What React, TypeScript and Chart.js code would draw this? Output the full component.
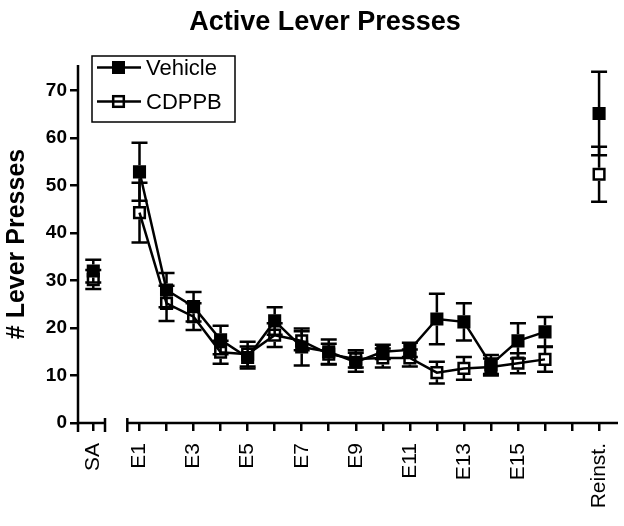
import React, { useEffect, useRef } from 'react';
import { Chart, registerables } from 'chart.js';

Chart.register(...registerables);

const FONT = "'Liberation Sans', Arial, Helvetica, sans-serif";

// ---- data ----
const categories = ['SA', 'E1', 'E2', 'E3', 'E4', 'E5', 'E6', 'E7', 'E8', 'E9', 'E10', 'E11', 'E12', 'E13', 'E14', 'E15', 'E16', 'Reinst.'];
// position of each session on the (broken) x axis
const xPositions = [-0.71, 1, 2, 3, 4, 5, 6, 7, 8, 9, 10, 11, 12, 13, 14, 15, 16, 18];

const vehicleMean = [32.0, 52.9, 28.0, 24.5, 17.5, 13.8, 21.5, 16.0, 15.0, 12.8, 15.0, 15.4, 21.9, 21.3, 12.3, 17.3, 19.2, 65.2];
const vehicleSem = [2.4, 6.1, 3.6, 3.1, 3.0, 2.3, 2.9, 3.9, 2.6, 2.0, 1.5, 1.5, 5.3, 3.9, 2.0, 3.7, 3.1, 8.8];
const cdppbMean = [30.2, 44.3, 25.2, 22.4, 14.9, 14.5, 18.5, 17.3, 14.5, 13.5, 13.7, 13.7, 10.6, 11.5, 11.8, 12.6, 13.4, 52.4];
const cdppbSem = [2.0, 6.3, 3.7, 2.8, 2.4, 2.6, 2.5, 2.0, 2.2, 1.8, 2.0, 1.8, 2.3, 2.4, 1.8, 2.1, 2.6, 5.8];

const xTickValues = [-0.71, 1, 2, 3, 4, 5, 6, 7, 8, 9, 10, 11, 12, 13, 14, 15, 16, 17, 18];
const xTickLabels = ['SA', 'E1', '', 'E3', '', 'E5', '', 'E7', '', 'E9', '', 'E11', '', 'E13', '', 'E15', '', '', 'Reinst.'];
const yTickStep = 10;

const titleText = 'Active Lever Presses';
const yTitleText = '# Lever Presses';
const seriesNames = ['Vehicle', 'CDPPB'];

// axis geometry (value units)
const X_MIN = -1.275;
const X_MAX = 18.7;
const Y_MIN = 0;
const Y_MAX = 75.4;
const BREAK_START = -0.276;
const BREAK_END = 0.549;

const semSets = [vehicleSem, cdppbSem];

const decorPlugin = {
  id: 'decor',
  beforeDatasetsDraw(chart: any) {
    const ctx = chart.ctx;
    const ys = chart.scales.y;
    const half = 6.5;
    chart.data.datasets.forEach((ds: any, di: number) => {
      const meta = chart.getDatasetMeta(di);
      const sems = semSets[di];
      meta.data.forEach((pt: any, i: number) => {
        const m = ds.data[i].y;
        const s = sems[i];
        const yc = pt.y;
        const yt = ys.getPixelForValue(m + s);
        const yb = ys.getPixelForValue(m - s);
        ctx.save();
        ctx.strokeStyle = '#000';
        ctx.lineWidth = 2.5;
        ctx.beginPath();
        if (yt < yc - half) {
          ctx.moveTo(pt.x, yc - half);
          ctx.lineTo(pt.x, yt);
        }
        ctx.moveTo(pt.x - 8, yt);
        ctx.lineTo(pt.x + 8, yt);
        if (yb > yc + half) {
          ctx.moveTo(pt.x, yc + half);
          ctx.lineTo(pt.x, yb);
        }
        ctx.moveTo(pt.x - 8, yb);
        ctx.lineTo(pt.x + 8, yb);
        ctx.stroke();
        ctx.restore();
      });
    });
  },
  afterDraw(chart: any) {
    const ctx = chart.ctx;
    const xs = chart.scales.x;
    const ys = chart.scales.y;
    const area = chart.chartArea;
    const x0 = xs.getPixelForValue(X_MIN);
    const yz = ys.getPixelForValue(0);
    const c1 = xs.getPixelForValue(BREAK_START);
    const c2 = xs.getPixelForValue(BREAK_END);
    ctx.save();
    ctx.strokeStyle = '#000';
    ctx.lineWidth = 2.5;
    ctx.beginPath();
    // y axis
    ctx.moveTo(x0, area.top);
    ctx.lineTo(x0, yz + 9);
    // x axis segment 1
    ctx.moveTo(x0, yz);
    ctx.lineTo(c1, yz);
    ctx.moveTo(c1, yz - 5);
    ctx.lineTo(c1, yz + 9);
    // x axis segment 2
    ctx.moveTo(c2, yz - 5);
    ctx.lineTo(c2, yz + 9);
    ctx.moveTo(c2, yz);
    ctx.lineTo(area.right, yz);
    ctx.stroke();

    // title
    ctx.fillStyle = '#000';
    ctx.font = `bold 27px ${FONT}`;
    ctx.textAlign = 'center';
    ctx.textBaseline = 'middle';
    ctx.fillText(titleText, 325, 23);

    // legend
    ctx.lineWidth = 1.5;
    ctx.strokeRect(92, 56, 143, 66);
    const rows = [67.5, 101.5];
    rows.forEach((ry, i) => {
      ctx.lineWidth = 2.5;
      ctx.beginPath();
      ctx.moveTo(97, ry);
      ctx.lineTo(141, ry);
      ctx.stroke();
      if (i === 0) {
        ctx.fillStyle = '#000';
        ctx.fillRect(118.5 - 6.5, ry - 6.5, 13, 13);
      } else {
        ctx.fillStyle = '#fff';
        ctx.fillRect(118.5 - 5.3, ry - 5.3, 10.6, 10.6);
        ctx.beginPath();
        ctx.moveTo(118.5 - 5.3, ry);
        ctx.lineTo(118.5 + 5.3, ry);
        ctx.stroke();
        ctx.strokeRect(118.5 - 5.3, ry - 5.3, 10.6, 10.6);
      }
      ctx.fillStyle = '#000';
      ctx.font = `22px ${FONT}`;
      ctx.textAlign = 'left';
      ctx.textBaseline = 'middle';
      ctx.fillText(seriesNames[i], 146, ry + 1);
    });
    ctx.restore();
  },
};

function makeDataset(label: string, means: number[], filled: boolean) {
  return {
    label,
    data: xPositions.map((x, i) => ({ x, y: means[i] })),
    borderColor: '#000',
    borderWidth: 2.5,
    pointStyle: 'rect',
    pointRadius: 7.5,
    pointBorderWidth: 2.5,
    pointBorderColor: '#000',
    pointBackgroundColor: filled ? '#000' : 'rgba(0,0,0,0)',
    fill: false,
    tension: 0,
    clip: false,
    segment: {
      borderColor: (c: any) =>
        c.p0DataIndex === 0 || c.p1DataIndex === categories.length - 1 ? 'rgba(0,0,0,0)' : '#000',
    },
  };
}

export default function App() {
  const ref = useRef<HTMLCanvasElement>(null);
  useEffect(() => {
    const canvas = ref.current;
    if (!canvas) return;
    const chart = new Chart(canvas, {
      type: 'line',
      data: {
        datasets: [
          makeDataset(seriesNames[0], vehicleMean, true),
          makeDataset(seriesNames[1], cdppbMean, false),
        ] as any,
      },
      options: {
        responsive: false,
        devicePixelRatio: 1,
        animation: false,
        events: [],
        layout: { autoPadding: false, padding: { left: 0, right: 6, top: 65, bottom: 0 } },
        plugins: {
          legend: { display: false },
          title: { display: false },
          tooltip: { enabled: false },
        },
        scales: {
          x: {
            type: 'linear',
            min: X_MIN,
            max: X_MAX,
            afterBuildTicks: (s: any) => {
              s.ticks = xTickValues.map((v) => ({ value: v }));
            },
            afterFit: (s: any) => {
              s.height = 103;
              s.paddingLeft = 0;
              s.paddingRight = 0;
            },
            ticks: {
              autoSkip: false,
              includeBounds: false,
              minRotation: 90,
              maxRotation: 90,
              padding: 12,
              color: '#000',
              font: { family: FONT, size: 21 },
              callback: (_v: any, i: number) => xTickLabels[i],
            },
            grid: {
              display: true,
              drawOnChartArea: false,
              drawTicks: true,
              tickLength: 8,
              color: '#000',
              lineWidth: 2.5,
            },
            border: { display: false },
          },
          y: {
            type: 'linear',
            min: Y_MIN,
            max: Y_MAX,
            afterFit: (s: any) => {
              s.width = 78;
              s.paddingTop = 0;
              s.paddingBottom = 0;
            },
            ticks: {
              stepSize: yTickStep,
              includeBounds: false,
              padding: 3,
              color: '#000',
              font: { family: FONT, size: 19, weight: 'bold' },
            },
            grid: {
              display: true,
              drawOnChartArea: false,
              drawTicks: true,
              tickLength: 8,
              color: '#000',
              lineWidth: 2.5,
            },
            border: { display: false },
            title: {
              display: true,
              text: yTitleText,
              color: '#000',
              font: { family: FONT, size: 25, weight: 'bold' },
              padding: { top: 2, bottom: 0 },
            },
          },
        },
      } as any,
      plugins: [decorPlugin],
    });
    return () => chart.destroy();
  }, []);
  return (
    <div style={{ position: 'fixed', left: 0, top: 0, width: 624, height: 526, background: '#fff', overflow: 'hidden' }}>
      <canvas ref={ref} width={624} height={526} style={{ display: 'block', width: 624, height: 526 }} />
    </div>
  );
}
